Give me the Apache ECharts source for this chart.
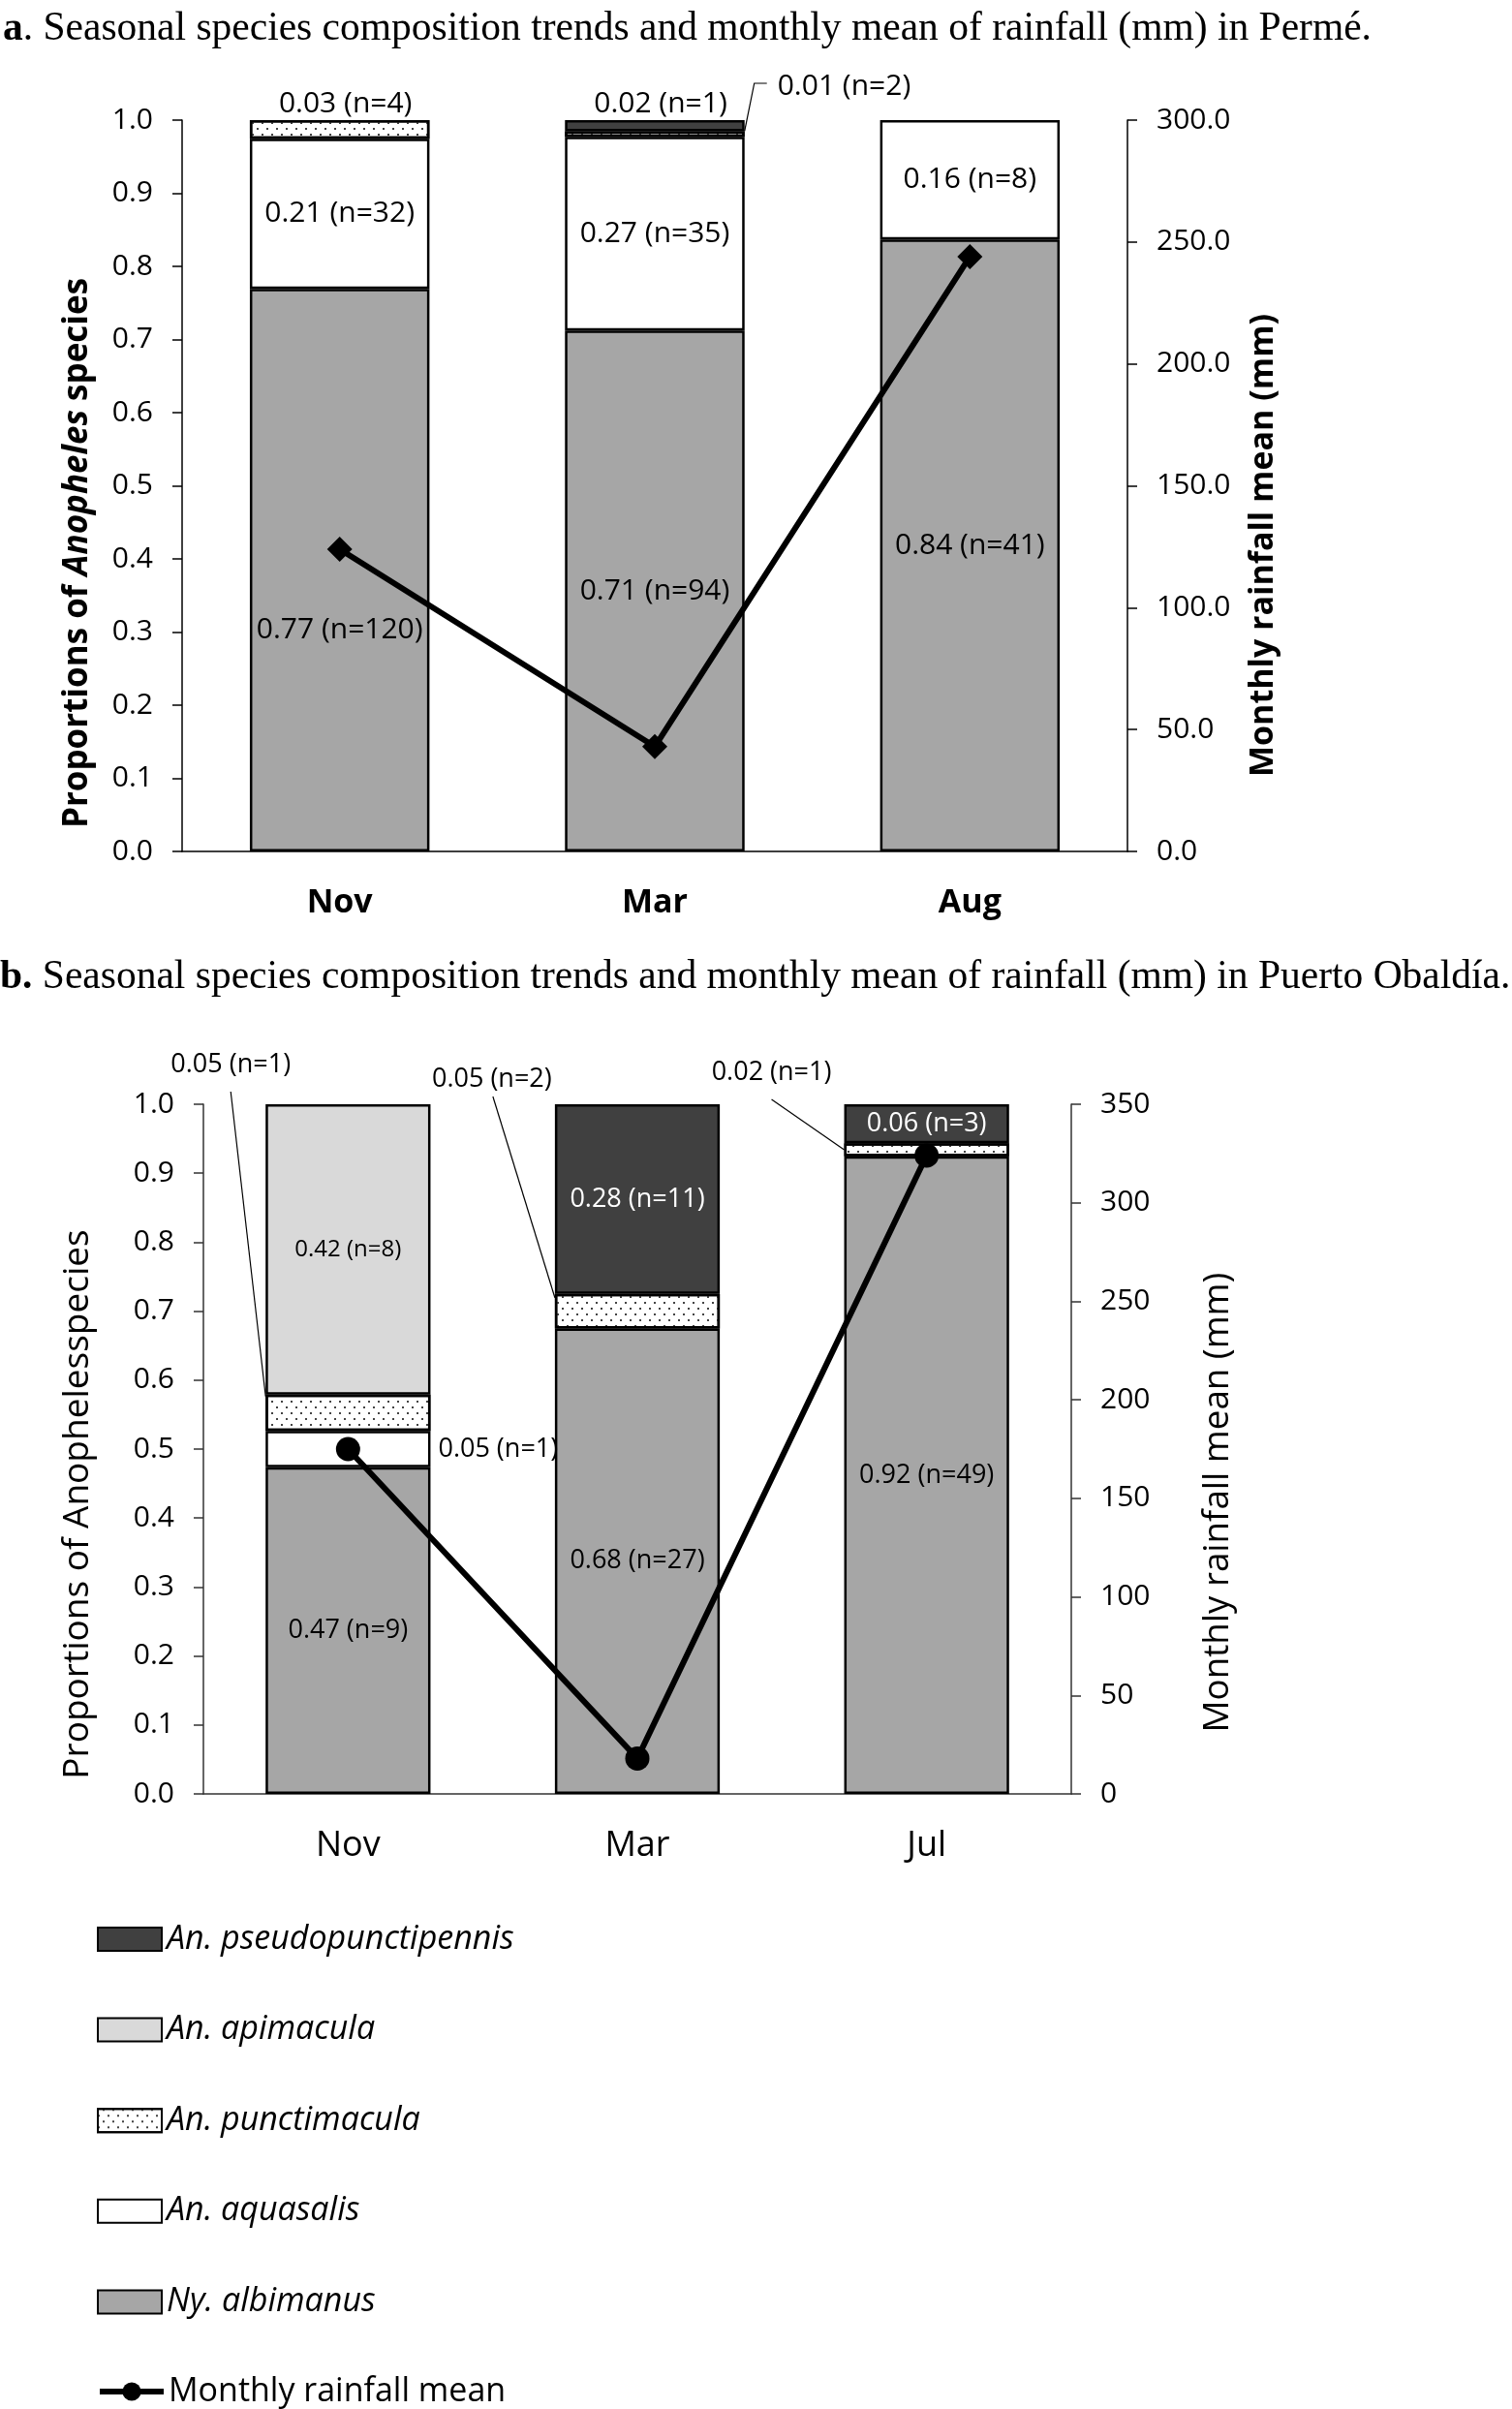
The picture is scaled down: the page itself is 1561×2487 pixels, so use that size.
<!DOCTYPE html>
<html><head><meta charset="utf-8">
<script src="https://cdn.jsdelivr.net/npm/echarts@6/dist/echarts.min.js"></script>
<style>html,body{margin:0;padding:0;background:#fff}#c{width:1561px;height:2487px}</style>
</head><body><div id="c"></div>
<script>
// ---------- DATA ----------
const monthsA = ['Nov', 'Mar', 'Aug'];
const monthsB = ['Nov', 'Mar', 'Jul'];
const speciesNames = ['Ny. albimanus', 'An. aquasalis', 'An. punctimacula', 'An. apimacula', 'An. pseudopunctipennis'];
const lineName = 'Monthly rainfall mean';
const legendSpecies = ['An. pseudopunctipennis', 'An. apimacula', 'An. punctimacula', 'An. aquasalis', 'Ny. albimanus'];

// a. Permé — specimen counts (n) per month
const albimanusA = [120, 94, 41];
const aquasalisA = [32, 35, 8];
const punctimaculaA = [4, 1, 0];
const apimaculaA = [0, 0, 0];
const pseudoA = [0, 2, 0];
const rainfallA = [124, 43, 244];
const albimanusLabA = ['0.77 (n=120)', '0.71 (n=94)', '0.84 (n=41)'];
const aquasalisLabA = ['0.21 (n=32)', '0.27 (n=35)', '0.16 (n=8)'];
const punctimaculaLabA = ['0.03 (n=4)', '0.01 (n=2)', null];
const apimaculaLabA = [null, null, null];
const pseudoLabA = [null, '0.02 (n=1)', null];

// b. Puerto Obaldía — specimen counts (n) per month
const albimanusB = [9, 27, 49];
const aquasalisB = [1, 0, 0];
const punctimaculaB = [1, 2, 1];
const apimaculaB = [8, 0, 0];
const pseudoB = [0, 11, 3];
const rainfallB = [175, 18, 324];
const albimanusLabB = ['0.47 (n=9)', '0.68 (n=27)', '0.92 (n=49)'];
const aquasalisLabB = ['0.05 (n=1)', null, null];
const punctimaculaLabB = ['0.05 (n=1)', '0.05 (n=2)', '0.02 (n=1)'];
const apimaculaLabB = ['0.42 (n=8)', null, null];
const pseudoLabB = [null, '0.28 (n=11)', '0.06 (n=3)'];

// axis ranges / tick steps
const propRange = [0, 1, 0.1];
const rainRangeA = [0, 300, 50];
const rainRangeB = [0, 350, 50];

const titleA = '. Seasonal species composition trends and monthly mean of rainfall (mm) in Permé.';
const titleB = ' Seasonal species composition trends and monthly mean of rainfall (mm) in Puerto Obaldía.';

// ---------- STYLE ----------
const F = 'Open Sans';
const fills = {
  'Ny. albimanus': '#a6a6a6',
  'An. aquasalis': '#ffffff',
  'An. punctimacula': '#ffffff',
  'An. apimacula': '#d9d9d9',
  'An. pseudopunctipennis': '#404040'
};
const dotDecal = { symbol: 'rect', symbolSize: 1, color: '#444', dashArrayX: [[2, 8], [0, 5, 2, 3]], dashArrayY: [2, 4], rotation: 0 };

const countsA = [albimanusA, aquasalisA, punctimaculaA, apimaculaA, pseudoA];
const labsA = [albimanusLabA, aquasalisLabA, punctimaculaLabA, apimaculaLabA, pseudoLabA];
const countsB = [albimanusB, aquasalisB, punctimaculaB, apimaculaB, pseudoB];
const labsB = [albimanusLabB, aquasalisLabB, punctimaculaLabB, apimaculaLabB, pseudoLabB];

function totals(counts) { return counts[0].map((_, i) => counts.reduce((s, a) => s + a[i], 0)); }
const totA = totals(countsA), totB = totals(countsB);

const labelTweaks = {
  'A|Ny. albimanus|0': { offset: [0, 62] },
  'A|An. punctimacula|0': { position: 'top', distance: 2, offset: [6, 0] },
  'A|An. pseudopunctipennis|1': { position: 'top', distance: 2, offset: [6, 0] },
  'B|An. aquasalis|0': { position: 'right', distance: 8, fontSize: 27 },
  'B|An. apimacula|0': { fontSize: 24 },
  'B|An. pseudopunctipennis|1': { color: '#fff' },
  'B|An. pseudopunctipennis|2': { color: '#fff' }
};
const leaderKeys = ['A|An. punctimacula|1', 'B|An. punctimacula|0', 'B|An. punctimacula|1', 'B|An. punctimacula|2'];

function barSeries(tag, counts, labs, tot, xi, yi, fs) {
  return speciesNames.map((name, s) => ({
    type: 'bar', name, stack: 'stk' + tag, xAxisIndex: xi, yAxisIndex: yi,
    barWidth: '57%',
    itemStyle: Object.assign({ color: fills[name], borderColor: '#000', borderWidth: 2.5 },
      name === 'An. punctimacula' ? { decal: dotDecal } : {}),
    emphasis: { disabled: true },
    data: counts[s].map((v, i) => {
      const key = tag + '|' + name + '|' + i;
      const txt = labs[s][i];
      const show = !!txt && leaderKeys.indexOf(key) < 0;
      return {
        value: v > 0 ? v / tot[i] : null,
        label: Object.assign({
          show, formatter: txt || '', position: 'inside', color: '#000',
          fontFamily: F, fontSize: fs, textBorderWidth: 0
        }, labelTweaks[key] || {})
      };
    })
  }));
}
function lineSeries(data, xi, yi, symbol, size) {
  return {
    type: 'line', name: lineName, xAxisIndex: xi, yAxisIndex: yi, data,
    symbol, symbolSize: size, z: 10,
    lineStyle: { color: '#000', width: 6 }, itemStyle: { color: '#000' },
    emphasis: { disabled: true }
  };
}

const series = [].concat(
  lineSeries(rainfallB, 1, 3, 'circle', 25),
  barSeries('B', countsB, labsB, totB, 1, 2, 27),
  lineSeries(rainfallA, 0, 1, 'diamond', 26),
  barSeries('A', countsA, labsA, totA, 0, 0, 30)
);

function valAxis(grid, range, pos, fmt, lineColor, fs) {
  return {
    type: 'value', gridIndex: grid, position: pos, min: range[0], max: range[1], interval: range[2],
    axisLine: { show: true, lineStyle: { color: lineColor, width: 1.5 } },
    axisTick: { show: true, length: 10, lineStyle: { color: lineColor, width: 1.5 } },
    splitLine: { show: false },
    axisLabel: { formatter: fmt, fontFamily: F, fontSize: fs, color: '#000', margin: 30 }
  };
}

const legendBase = {
  orient: 'vertical', left: 100, padding: 0, itemWidth: 66, itemHeight: 24, itemGap: 59.6,
  selectedMode: false,
  lineStyle: { width: 6 },
  textStyle: { fontFamily: F, fontSize: 34, fontStyle: 'italic', color: '#000' }
};

const option = {
  animation: false,
  textStyle: { fontFamily: F },
  grid: [
    { left: 188, top: 124, width: 976, height: 755 },
    { left: 210, top: 1140, width: 896, height: 712 }
  ],
  xAxis: [
    { type: 'category', gridIndex: 0, data: monthsA,
      axisLine: { lineStyle: { color: '#000', width: 1.5 } }, axisTick: { show: false },
      axisLabel: { fontFamily: F, fontSize: 34, fontWeight: 'bold', color: '#000', margin: 36 } },
    { type: 'category', gridIndex: 1, data: monthsB,
      axisLine: { lineStyle: { color: '#333', width: 1.5 } }, axisTick: { show: false },
      axisLabel: { fontFamily: F, fontSize: 36, color: '#000', margin: 36 } }
  ],
  yAxis: [
    valAxis(0, propRange, 'left', v => v.toFixed(1), '#000', 30),
    valAxis(0, rainRangeA, 'right', v => v.toFixed(1), '#000', 30),
    valAxis(1, propRange, 'left', v => v.toFixed(1), '#333', 30),
    valAxis(1, rainRangeB, 'right', v => String(v), '#333', 30)
  ],
  legend: [
    Object.assign({}, legendBase, { top: 1985, data: legendSpecies.map(n => ({ name: n, icon: 'rect' })) }),
    Object.assign({}, legendBase, { top: 2452, data: [{ name: lineName, textStyle: { fontStyle: 'normal' } }] })
  ],
  series
};

const chart = echarts.init(document.getElementById('c'));
chart.setOption(option);

// ---------- annotations anchored through the axes ----------
function px(xi, yi, cat, val) { return chart.convertToPixel({ xAxisIndex: xi, yAxisIndex: yi }, [cat, val]); }
function cum(counts, tot, s, i) { let c = 0; for (let k = 0; k <= s; k++) c += counts[k][i]; return c / tot[i]; }
function band(xi, yi, cats) { return px(xi, yi, cats[1], 0)[0] - px(xi, yi, cats[0], 0)[0]; }

const g = [];
function txt(x, y, text, size, align) {
  g.push({ type: 'text', x, y, silent: true,
    style: { text, font: size + 'px "' + F + '"', fill: '#000', align: align || 'center', verticalAlign: 'middle' } });
}
function poly(points) {
  g.push({ type: 'polyline', silent: true, shape: { points }, style: { stroke: '#000', lineWidth: 1.2, fill: null } });
}

// chart b leader labels
{
  const bw = band(1, 2, monthsB) * 0.57;
  const y1 = px(1, 2, monthsB[0], 1)[1];
  const P = 2;
  let cx = px(1, 2, monthsB[0], 0)[0];
  let top = px(1, 2, monthsB[0], cum(countsB, totB, P, 0))[1];
  let lx = cx - bw / 2;
  txt(lx - 36, y1 - 41, punctimaculaLabB[0], 27);
  poly([[lx - 36, y1 - 13], [lx, top + 2]]);
  cx = px(1, 2, monthsB[1], 0)[0];
  top = px(1, 2, monthsB[1], cum(countsB, totB, P, 1))[1];
  lx = cx - bw / 2;
  txt(lx - 65, y1 - 26, punctimaculaLabB[1], 27);
  poly([[lx - 64, y1 - 8], [lx, top + 4]]);
  cx = px(1, 2, monthsB[2], 0)[0];
  const mid = px(1, 2, monthsB[2], (cum(countsB, totB, P, 2) + cum(countsB, totB, P - 1, 2)) / 2)[1];
  lx = cx - bw / 2;
  txt(lx - 75, y1 - 33, punctimaculaLabB[2], 27);
  poly([[lx - 75, y1 - 5], [lx, mid]]);
}
// chart a leader label (Mar)
{
  const bw = band(0, 0, monthsA) * 0.57;
  const y1 = px(0, 0, monthsA[0], 1)[1];
  const cx = px(0, 0, monthsA[1], 0)[0];
  const top = px(0, 0, monthsA[1], cum(countsA, totA, 2, 1))[1];
  const rx = cx + bw / 2;
  poly([[rx, top], [rx + 10, y1 - 38], [rx + 23, y1 - 38]]);
  txt(rx + 34, y1 - 35, punctimaculaLabA[1], 30, 'left');
}

// titles
const TF = 41.5;
g.push({ type: 'text', x: 3, y: 30, silent: true,
  style: { text: '{b|a}' + titleA, font: TF + 'px "Liberation Serif"', fill: '#000', verticalAlign: 'middle',
    rich: { b: { fontFamily: 'Liberation Serif', fontSize: TF, fontWeight: 'bold' } } } });
g.push({ type: 'text', x: 0, y: 1009, silent: true,
  style: { text: '{b|b.}' + titleB, font: TF + 'px "Liberation Serif"', fill: '#000', verticalAlign: 'middle',
    rich: { b: { fontFamily: 'Liberation Serif', fontSize: TF, fontWeight: 'bold' } } } });

// axis names (rotated)
function vname(x, y, text, rich, base) {
  g.push({ type: 'text', x, y, rotation: Math.PI / 2, silent: true,
    style: { text, font: base, fill: '#000', align: 'center', verticalAlign: 'middle', rich } });
}
vname(80, 571, '{n|Proportions of }{i|Anopheles}{n| species}',
  { n: { fontFamily: F, fontSize: 35, fontWeight: 'bold' }, i: { fontFamily: F, fontSize: 35, fontWeight: 'bold', fontStyle: 'italic' } },
  'bold 35px "' + F + '"');
vname(1304, 563, 'Monthly rainfall mean (mm)', null, 'bold 34px "' + F + '"');
vname(80, 1553, 'Proportions of Anophelesspecies', null, '37px "' + F + '"');
vname(1258, 1551, 'Monthly rainfall mean (mm)', null, '36.7px "' + F + '"');

chart.setOption({ graphic: g });
</script>
</body></html>
